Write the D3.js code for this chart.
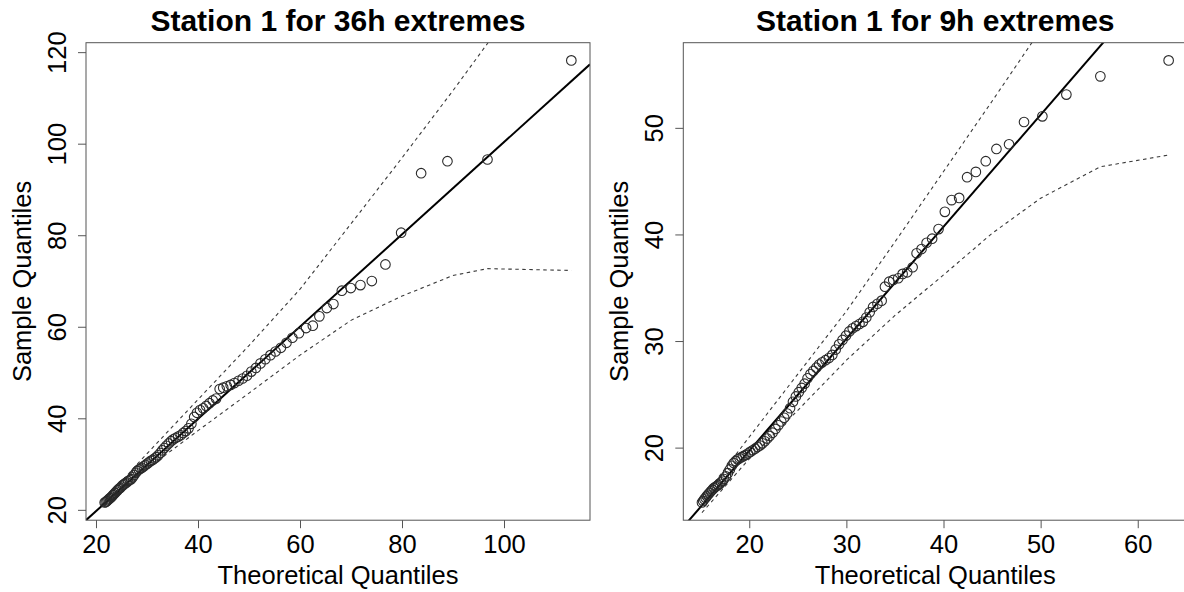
<!DOCTYPE html>
<html>
<head>
<meta charset="utf-8">
<script src="https://cdn.jsdelivr.net/npm/d3@7/dist/d3.min.js"></script>
<style>
  body { margin: 0; background: #fff; }
  svg { display: block; font-family: "Liberation Sans", Arial, sans-serif; }
</style>
</head>
<body>
<div id="chart"></div>
<script>
// QQ plots of station extremes, two panels side by side

// --- 36h panel ---
const theo36 = [21.7,21.9,22.1,22.3,22.5,22.7,22.9,23.1,23.3,23.5,
  23.75,24.0,24.25,24.5,24.75,25.0,25.25,25.5,25.75,26.0,
  26.3,26.6,26.9,27.2,27.5,27.8,28.1,28.4,28.7,29.0,
  29.35,29.7,30.05,30.4,30.75,31.1,31.45,31.8,32.2,32.6,
  33.0,33.4,33.8,34.25,34.7,35.15,35.6,36.1,36.6,37.1,
  37.6,38.15,38.7,39.25,39.8,40.4,41.0,41.6,42.25,42.9,
  43.55,44.25,44.95,45.65,46.4,47.15,47.95,48.75,49.6,50.45,
  51.35,52.25,53.2,54.2,55.2,56.25,57.35,58.5,59.8,
  61.2,62.51,63.8,65.26,66.55,68.2,69.96,71.85,74.08,76.75,79.83,83.75,88.91,96.76,113.2];
const samp36 = [21.6,21.7,21.9,22.1,22.3,22.5,22.7,22.9,23.2,23.4,
  23.7,24.0,24.3,24.6,24.8,25.1,25.4,25.6,25.8,26.0,
  26.3,26.5,26.7,27.1,27.6,28.1,28.5,28.8,29.0,29.2,
  29.5,29.8,30.1,30.4,30.7,30.9,31.2,31.5,31.9,32.4,
  33.0,33.5,34.0,34.5,35.0,35.4,35.7,36.0,36.3,36.8,
  37.2,37.8,38.8,40.3,41.2,41.8,42.2,42.7,43.3,43.9,
  44.3,46.4,46.7,47.0,47.3,47.7,48.2,48.7,49.3,50.2,
  51.0,52.0,52.9,53.8,54.6,55.4,56.5,57.6,58.6,
  59.72,60.24,62.27,64.08,64.96,67.88,68.45,69.1,69.98,73.62,80.55,93.56,96.18,96.55,118.2];
const env36X  = [21.7, 28, 40, 50, 60, 70, 80, 90, 96.76, 113.2];
const env36Up = [22.0, 29.9, 44.1, 55.9, 68.2, 82.5, 96.9, 111.6, 121.9, 146.2];
const env36Lo = [20.9, 27.3, 37.3, 45.5, 53.8, 61.4, 66.7, 71.2, 72.7, 72.3];
const line36 = [-0.45, 1.008]; // intercept, slope
const xTicks36 = [20, 40, 60, 80, 100];
const yTicks36 = [20, 40, 60, 80, 100, 120];

// --- 9h panel ---
const theo9 = [15.13,15.25,15.37,15.5,15.63,15.76,15.9,16.05,16.2,16.35,
  16.5,16.65,16.8,16.95,17.1,17.25,17.4,17.6,17.8,18.0,
  18.2,18.4,18.6,18.8,19.0,19.2,19.4,19.6,19.85,20.1,
  20.35,20.6,20.85,21.1,21.35,21.6,21.85,22.1,22.4,22.7,
  23.0,23.3,23.6,23.9,24.2,24.5,24.8,25.1,25.4,25.7,
  26.0,26.3,26.6,26.9,27.2,27.5,27.85,28.2,28.55,28.9,
  29.25,29.6,29.95,30.3,30.65,31.0,31.35,31.7,32.05,32.4,32.75,33.2,
  33.63,33.97,34.41,34.82,35.34,35.79,36.26,36.82,37.23,37.74,38.26,38.83,39.49,40.14,
  40.83,41.61,42.43,43.33,44.35,45.45,46.75,48.29,50.18,52.65,56.15,63.18];
const samp9 = [14.85,15.0,15.15,15.3,15.45,15.6,15.75,15.9,16.05,16.2,
  16.3,16.4,16.5,16.6,16.75,16.9,17.05,17.3,17.6,17.95,
  18.3,18.55,18.75,18.9,19.0,19.1,19.2,19.3,19.45,19.6,
  19.75,19.9,20.05,20.2,20.4,20.6,20.85,21.1,21.4,21.75,
  22.1,22.45,22.8,23.2,23.7,24.3,24.8,25.2,25.6,26.0,
  26.5,26.9,27.2,27.5,27.8,28.0,28.2,28.4,28.7,29.2,
  29.7,30.1,30.5,30.9,31.2,31.4,31.6,31.8,32.2,32.7,33.2,33.5,
  33.79,35.1,35.57,35.73,35.89,36.3,36.45,36.92,38.23,38.63,39.22,39.6,40.5,42.12,
  43.22,43.43,45.37,45.87,46.87,48.02,48.46,50.55,51.08,53.12,54.83,56.33];
const env9X  = [15.13, 20, 25, 30, 35, 40, 45, 50, 56.15, 63.18];
const env9Up = [15.2, 21.0, 26.9, 32.8, 39.3, 45.9, 52.5, 59.2, 67.7, 77.0];
const env9Lo = [13.9, 18.95, 23.5, 28.2, 32.4, 36.2, 40.1, 43.4, 46.35, 47.45];
const line9 = [-1.32, 1.051];
const xTicks9 = [20, 30, 40, 50, 60];
const yTicks9 = [20, 30, 40, 50];

const titles = ["Station 1 for 36h extremes", "Station 1 for 9h extremes"];
const xLabel = "Theoretical Quantiles";
const yLabel = "Sample Quantiles";

const width = 1184, height = 592;
const pw = 504, ph = 477.5; // plot box size
const fontSize = 25.5;

const svg = d3.select("#chart").append("svg")
    .attr("width", width)
    .attr("height", height);

// R style axis limits: data range padded by 4% each side
function rlim(v) {
  const [a, b] = d3.extent(v);
  const pad = 0.04 * (b - a);
  return [a - pad, b + pad];
}

function panel(id, left, top, d) {
  const g = svg.append("g").attr("transform", `translate(${left},${top})`);

  const x = d3.scaleLinear().domain(rlim(d.theo)).range([0, pw]);
  const y = d3.scaleLinear().domain(rlim(d.samp)).range([ph, 0]);

  g.append("clipPath").attr("id", "clip" + id)
    .append("rect").attr("width", pw).attr("height", ph);
  const plot = g.append("g").attr("clip-path", `url(#clip${id})`);

  // confidence envelope
  const env = d3.line().x(p => x(p[0])).y(p => y(p[1]));
  [d.envUp, d.envLo].forEach(arr => {
    plot.append("path")
      .attr("d", env(d.envX.map((v, i) => [v, arr[i]])))
      .attr("fill", "none")
      .attr("stroke", "#3a3a3a")
      .attr("stroke-width", 1.1)
      .attr("stroke-dasharray", "3.5,3.5");
  });

  // reference line
  const [x0, x1] = x.domain();
  plot.append("line")
    .attr("x1", x(x0)).attr("y1", y(d.line[0] + d.line[1] * x0))
    .attr("x2", x(x1)).attr("y2", y(d.line[0] + d.line[1] * x1))
    .attr("stroke", "#000")
    .attr("stroke-width", 2);

  // points
  g.append("g").selectAll("circle")
    .data(d.theo.map((v, i) => [v, d.samp[i]]))
    .join("circle")
      .attr("cx", p => x(p[0]))
      .attr("cy", p => y(p[1]))
      .attr("r", 4.8)
      .attr("fill", "none")
      .attr("stroke", "#2a2a2a")
      .attr("stroke-width", 1.1);

  // axes
  const ax = g.append("g").attr("transform", `translate(0,${ph})`)
    .call(d3.axisBottom(x).tickValues(d.xTicks).tickSize(8).tickPadding(7).tickFormat(d3.format("d")));
  const ay = g.append("g")
    .call(d3.axisLeft(y).tickValues(d.yTicks).tickSize(8).tickFormat(d3.format("d")));
  [ax, ay].forEach(a => {
    a.select(".domain").remove();
    a.selectAll("line").attr("stroke", "#555");
    a.selectAll("text").attr("font-size", fontSize).attr("fill", "#000")
      .attr("font-family", "Liberation Sans, Arial, sans-serif");
  });
  ay.selectAll("text")
    .attr("transform", "rotate(-90)")
    .attr("x", 0).attr("y", -20).attr("dy", 0)
    .attr("text-anchor", "middle");

  // box
  g.append("rect")
    .attr("width", pw).attr("height", ph)
    .attr("fill", "none")
    .attr("stroke", "#555")
    .attr("stroke-width", 1);

  // labels
  g.append("text")
    .attr("x", pw / 2).attr("y", ph + 64)
    .attr("text-anchor", "middle")
    .attr("font-size", fontSize)
    .text(xLabel);
  g.append("text")
    .attr("transform", `translate(-55,${ph / 2}) rotate(-90)`)
    .attr("text-anchor", "middle")
    .attr("font-size", fontSize)
    .text(yLabel);
  g.append("text")
    .attr("x", pw / 2).attr("y", -12)
    .attr("text-anchor", "middle")
    .attr("font-size", 30)
    .attr("font-weight", "bold")
    .text(d.title);
}

panel(1, 86, 42.7, {
  theo: theo36, samp: samp36, envX: env36X, envUp: env36Up, envLo: env36Lo,
  line: line36, xTicks: xTicks36, yTicks: yTicks36, title: titles[0]
});
panel(2, 683.3, 42.7, {
  theo: theo9, samp: samp9, envX: env9X, envUp: env9Up, envLo: env9Lo,
  line: line9, xTicks: xTicks9, yTicks: yTicks9, title: titles[1]
});
</script>
</body>
</html>
